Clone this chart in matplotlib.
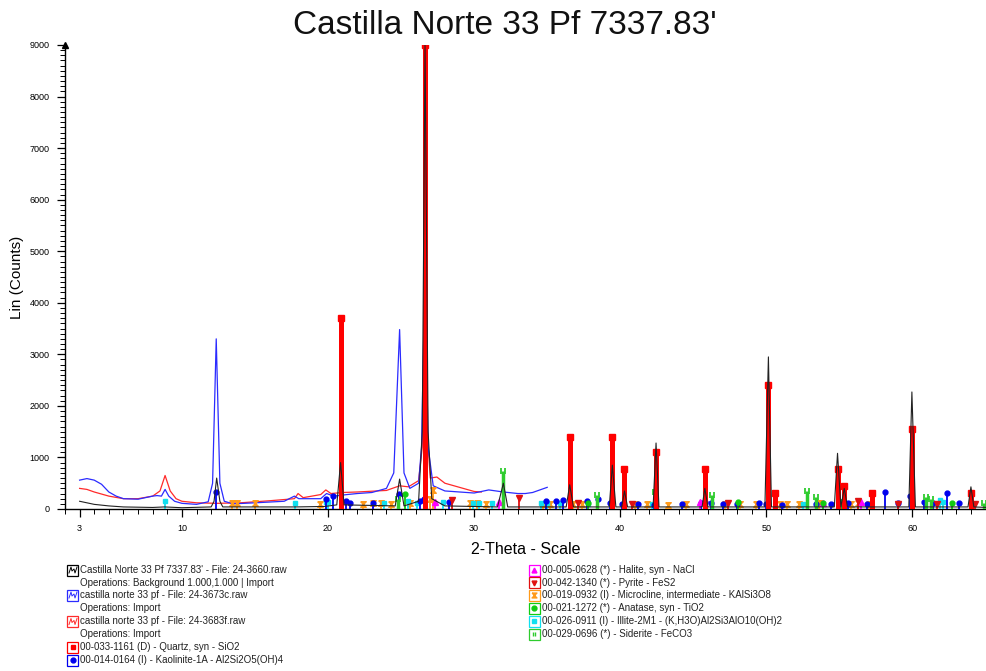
import matplotlib
matplotlib.use("Agg")
import matplotlib.pyplot as plt
from matplotlib.patches import Rectangle
from matplotlib.lines import Line2D
from matplotlib.path import Path

plt.rcParams['font.family'] = ['Liberation Sans', 'DejaVu Sans']

W, H = 987, 671

# ---------------- measured patterns (2-Theta, Lin counts) ----------------
black_tt = [3.0, 3.5, 4.0, 5.0, 6.0, 8.0, 8.8, 10.0, 12.0, 12.2, 12.38, 12.6, 12.8,
            17.8, 19.8, 20.6, 20.86, 21.1, 24.6, 24.9, 25.2, 26.2, 26.45, 26.64,
            26.85, 27.1, 28.0, 31.6, 32.0, 32.3, 36.3, 36.54, 36.8, 39.25, 39.46,
            39.7, 40.1, 40.29, 40.5, 42.25, 42.45, 42.65, 45.6, 45.79, 46.0, 49.9,
            50.14, 50.35, 54.65, 54.87, 55.1, 55.33, 55.55, 59.75, 59.96, 60.2,
            63.8, 64.0, 64.2, 65.1]
black_ct = [150, 120, 90, 60, 40, 30, 40, 25, 40, 150, 600, 150, 40,
            40, 50, 80, 900, 80, 60, 580, 60, 150, 1500, 9000,
            1500, 200, 60, 40, 500, 40, 40, 470, 40, 40, 850,
            40, 40, 350, 40, 40, 1280, 40, 40, 400, 40, 40,
            2950, 40, 40, 1080, 40, 400, 40, 40, 2270, 40,
            40, 430, 40, 30]

blue_tt = [3.0, 3.5, 4.0, 4.5, 5.0, 5.5, 6.0, 7.0, 8.0, 8.3, 8.6, 8.85, 9.1, 9.5,
           10.0, 11.0, 11.8, 12.1, 12.35, 12.6, 12.9, 13.5, 15.0, 17.0, 17.7,
           18.0, 19.5, 19.9, 20.4, 21.3, 22.0, 23.0, 24.0, 24.5, 24.9, 25.2,
           25.6, 26.2, 26.4, 26.64, 26.85, 27.2, 28.0, 29.0, 30.0, 31.0, 32.0,
           33.0, 33.5, 34.0, 35.0]
blue_ct = [560, 590, 560, 480, 330, 250, 200, 190, 250, 260, 250, 380, 250, 150,
           110, 90, 140, 500, 3300, 500, 150, 100, 120, 150, 250,
           200, 200, 300, 250, 280, 300, 320, 400, 700, 3480, 700,
           400, 500, 1200, 4700, 1200, 450, 350, 330, 310, 370, 330,
           300, 300, 320, 420]

red_tt = [3.0, 3.5, 4.0, 5.0, 6.0, 7.0, 8.0, 8.5, 8.85, 9.2, 9.6, 10.0, 11.0,
          12.4, 14.0, 16.0, 17.7, 17.95, 18.3, 19.5, 19.85, 20.2, 21.0, 22.0,
          24.0, 24.9, 25.5, 26.2, 26.45, 26.64, 26.85, 27.0, 27.45, 28.0, 29.0,
          30.0, 30.5]
red_ct = [400, 380, 330, 250, 200, 200, 250, 350, 650, 350, 200, 150, 120,
          110, 120, 160, 200, 300, 220, 280, 370, 300, 320, 330,
          360, 450, 430, 550, 1200, 3000, 1200, 600, 620, 500, 420,
          340, 330]

# ---------------- reference patterns (stick positions, heights) ----------------
quartz_tt = [20.86, 26.64, 36.54, 39.46, 40.29, 42.45, 45.79, 50.14, 50.62,
             54.87, 55.33, 57.24, 59.96, 63.99]
quartz_ct = [3700, 9000, 1400, 1400, 780, 1100, 780, 2400, 310,
             780, 450, 310, 1560, 310]

kaolinite_tt = [12.36, 19.86, 20.36, 21.24, 21.5, 23.1, 24.88, 26.3, 26.6, 28.3,
                34.95, 35.6, 36.1, 37.7, 38.45, 39.3, 40.1, 41.2, 42.3, 44.2,
                45.5, 45.8, 46.2, 47.0, 48.0, 49.5, 50.0, 51.1, 53.4, 54.4,
                55.1, 55.6, 56.9, 58.15, 59.0, 59.85, 60.8, 61.4, 62.35, 63.2]
kaolinite_ct = [330, 200, 250, 150, 120, 120, 300, 160, 200, 130,
                150, 150, 180, 150, 190, 120, 100, 100, 80, 90,
                110, 140, 120, 90, 90, 120, 100, 80, 100, 100,
                140, 110, 100, 330, 110, 260, 130, 110, 310, 120]

microcline_tt = [13.4, 13.8, 15.0, 19.45, 22.4, 23.1, 23.6, 24.3, 25.6, 27.0,
                 27.2, 29.7, 30.2, 30.8, 34.7, 35.2, 36.8, 37.4, 41.0, 41.8,
                 43.3, 44.5, 47.2, 48.2, 49.3, 50.9, 51.4, 52.2, 53.6, 55.8,
                 56.3, 57.0]
microcline_ct = [120, 120, 120, 100, 90, 110, 120, 100, 110, 200,
                 370, 110, 110, 100, 100, 100, 90, 100, 90, 90,
                 80, 90, 90, 90, 100, 90, 90, 90, 110, 90,
                 120, 90]

halite_tt = [27.35, 31.7, 45.45, 53.85, 56.5]
halite_ct = [130, 140, 130, 110, 140]

pyrite_tt = [28.5, 33.05, 37.1, 40.8, 47.4, 56.3, 59.0, 61.7, 64.3]
pyrite_ct = [170, 210, 110, 100, 110, 160, 100, 90, 100]

anatase_tt = [25.3, 37.8, 48.05, 53.9, 55.1, 62.7]
anatase_ct = [300, 120, 140, 120, 130, 110]

illite_tt = [8.85, 17.75, 19.85, 20.0, 23.8, 25.5, 26.1, 27.9, 29.9, 30.3,
             31.2, 34.6, 35.0, 35.9, 37.8, 40.2, 42.2, 45.5, 52.5, 55.0,
             61.9, 62.1]
illite_ct = [150, 120, 130, 130, 120, 150, 110, 140, 110, 110,
             110, 110, 120, 110, 100, 100, 100, 120, 100, 110,
             180, 140]

siderite_tt = [24.8, 32.0, 38.4, 42.4, 46.3, 52.8, 53.4, 60.9, 61.3, 64.9]
siderite_ct = [200, 740, 270, 330, 270, 350, 230, 240, 200, 110]

title = "Castilla Norte 33 Pf 7337.83'"
xticks = [3, 10, 20, 30, 40, 50, 60]
yticks = [0, 1000, 2000, 3000, 4000, 5000, 6000, 7000, 8000, 9000]

legend_left = [
    ("scan", "black", "Castilla Norte 33 Pf 7337.83' - File: 24-3660.raw"),
    (None, None, "Operations: Background 1.000,1.000 | Import"),
    ("scan", "#2b2bff", "castilla norte 33 pf - File: 24-3673c.raw"),
    (None, None, "Operations: Import"),
    ("scan", "#ff2a2a", "castilla norte 33 pf - File: 24-3683f.raw"),
    (None, None, "Operations: Import"),
    ("s", "#ff0000", "00-033-1161 (D) - Quartz, syn - SiO2"),
    ("o", "#0000ee", "00-014-0164 (I) - Kaolinite-1A - Al2Si2O5(OH)4"),
]

hourglass = Path([(-1, 1), (1, 1), (-1, -1), (1, -1), (-1, 1)])
double_bar = Path([(-0.5, -1), (-0.5, 1), (0.5, -1), (0.5, 1)],
                  [Path.MOVETO, Path.LINETO, Path.MOVETO, Path.LINETO])

legend_right = [
    ("^", "#ff00ff", "00-005-0628 (*) - Halite, syn - NaCl"),
    ("v", "#e01010", "00-042-1340 (*) - Pyrite - FeS2"),
    (hourglass, "#ff9a1a", "00-019-0932 (I) - Microcline, intermediate - KAlSi3O8"),
    ("o", "#11cc11", "00-021-1272 (*) - Anatase, syn - TiO2"),
    ("s", "#11e0f0", "00-026-0911 (I) - Illite-2M1 - (K,H3O)Al2Si3AlO10(OH)2"),
    (double_bar, "#2ecc2e", "00-029-0696 (*) - Siderite - FeCO3"),
]


def fx(x):
    return x / W


def fy(y):
    return 1 - y / H


fig = plt.figure(figsize=(W / 100, H / 100), dpi=100)
ax = fig.add_axes([fx(65), fy(509), fx(987 - 65), (509 - 45) / H])

# measured scans
ax.plot(red_tt, red_ct, color="#ff2a2a", lw=0.9, zorder=2)
ax.plot(blue_tt, blue_ct, color="#2b2bff", lw=0.9, zorder=2)


def sticks(tt, ct, color, marker, lw=1.3, ms=4.0, z=3, mew=1.0):
    ax.vlines(tt, 0, ct, color=color, lw=lw, zorder=z)
    ax.plot(tt, ct, linestyle="none", marker=marker, color=color, ms=ms,
            mew=mew, zorder=z)


sticks(microcline_tt, microcline_ct, "#ff9a1a", hourglass)
sticks(illite_tt, illite_ct, "#11e0f0", "s", ms=3.5)
sticks(kaolinite_tt, kaolinite_ct, "#0000ee", "o", ms=3.5)
sticks(halite_tt, halite_ct, "#ff00ff", "^")
sticks(pyrite_tt, pyrite_ct, "#e01010", "v")
sticks(anatase_tt, anatase_ct, "#11cc11", "o", ms=3.5)
sticks(siderite_tt, siderite_ct, "#2ecc2e", double_bar, lw=2.5, ms=4.5, mew=1.3)
sticks(quartz_tt, quartz_ct, "#ff0000", "s", lw=3.6, ms=4.5, z=4)

# background-subtracted scan on top
ax.plot(black_tt, black_ct, color="#222222", lw=0.8, zorder=5)

ax.set_xlim(2, 65.1)
ax.set_ylim(0, 9000)
for s in ("top", "right"):
    ax.spines[s].set_visible(False)
ax.spines["left"].set_linewidth(1.0)
ax.spines["bottom"].set_linewidth(1.0)
ax.set_xticks(xticks)
ax.set_xticks(range(2, 66), minor=True)
ax.set_yticks(yticks)
ax.set_yticks(range(0, 9001, 100), minor=True)
ax.tick_params(axis="both", which="major", labelsize=6.5, length=6, width=0.9,
               direction="out", color="black")
ax.tick_params(axis="both", which="minor", length=3.5, width=0.7, direction="out")
ax.tick_params(axis="y", pad=5)
ax.tick_params(axis="x", pad=5)
ax.plot([0], [1], marker="^", color="black", ms=4, transform=ax.transAxes,
        clip_on=False, zorder=6)

ax.set_ylabel("Lin (Counts)", fontsize=11, labelpad=4)
ax.set_xlabel("2-Theta - Scale", fontsize=11.5, labelpad=6)
fig.text(fx(505), fy(25), title, fontsize=24, ha="center", va="center",
         color="#111111")


def legend_icon(xc, yc, kind, color):
    s = 11
    fig.add_artist(Rectangle((fx(xc - s / 2), fy(yc + s / 2)), s / W, s / H,
                             facecolor="white", edgecolor=color, lw=0.9,
                             transform=fig.transFigure))
    if kind == "scan":
        xs = [xc - 4, xc - 2, xc - 1, xc + 1, xc + 2, xc + 4]
        ys = [yc + 3, yc - 3, yc + 1, yc - 1, yc + 3, yc - 3]
        fig.add_artist(Line2D([fx(v) for v in xs], [fy(v) for v in ys],
                              color=color, lw=0.7, transform=fig.transFigure))
    else:
        fig.add_artist(Line2D([fx(xc)], [fy(yc)], marker=kind, color=color,
                              ms=3.5, mew=1.0, linestyle="none",
                              transform=fig.transFigure))


left_rows = [570, 583, 595, 608, 621.5, 634, 647, 660]
for (kind, color, text), yc in zip(legend_left, left_rows):
    if kind is not None:
        legend_icon(73, yc, kind, color)
    fig.text(fx(80), fy(yc), text, fontsize=7, ha="left", va="center",
             color="#222222")

right_rows = [570, 582.5, 595, 608, 621, 634]
for (kind, color, text), yc in zip(legend_right, right_rows):
    legend_icon(534, yc, kind, color)
    fig.text(fx(542), fy(yc), text, fontsize=7, ha="left", va="center",
             color="#222222")

fig.savefig("out.png", dpi=100)
